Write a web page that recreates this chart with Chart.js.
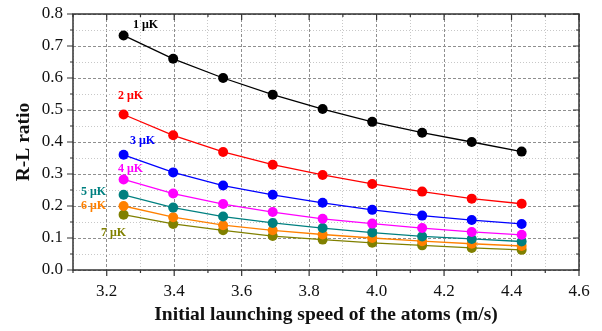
<!DOCTYPE html>
<html>
<head>
<meta charset="utf-8">
<script src="https://cdn.jsdelivr.net/npm/chart.js@4/dist/chart.umd.min.js"></script>
<style>
  html, body { margin: 0; padding: 0; background: #fff; }
  #wrap { width: 602px; height: 331px; }
</style>
</head>
<body>
<div id="wrap"><canvas id="chart"></canvas></div>
<script>
// Data
const speeds = [3.25, 3.397, 3.545, 3.692, 3.84, 3.987, 4.135, 4.282, 4.43];
const temps = ['1 μK', '2 μK', '3 μK', '4 μK', '5 μK', '6 μK', '7 μK'];
const ratio1uK = [0.733, 0.660, 0.600, 0.548, 0.503, 0.463, 0.429, 0.400, 0.370];
const ratio2uK = [0.486, 0.421, 0.369, 0.329, 0.297, 0.269, 0.245, 0.223, 0.207];
const ratio3uK = [0.360, 0.305, 0.264, 0.235, 0.210, 0.188, 0.170, 0.156, 0.144];
const ratio4uK = [0.283, 0.239, 0.206, 0.181, 0.160, 0.145, 0.131, 0.119, 0.110];
const ratio5uK = [0.235, 0.195, 0.167, 0.147, 0.131, 0.117, 0.105, 0.097, 0.089];
const ratio6uK = [0.200, 0.165, 0.140, 0.124, 0.111, 0.100, 0.090, 0.082, 0.075];
const ratio7uK = [0.173, 0.144, 0.124, 0.106, 0.095, 0.085, 0.077, 0.069, 0.063];

const allSeries = [ratio1uK, ratio2uK, ratio3uK, ratio4uK, ratio5uK, ratio6uK, ratio7uK];
const colors = ['#000000', '#ff0000', '#0000ff', '#ff00ff', '#008080', '#ff8000', '#808000'];
// label offset (px) from the first point of each curve
const labelOffsets = [[22, -11], [7, -19], [19, -14], [7, -11], [-30, -3], [-30, 0], [-10, 18]];

const serif = "'Liberation Serif', 'Times New Roman', serif";

const datasets = allSeries.map((vals, i) => ({
    label: temps[i],
    data: vals.map((v, j) => ({ x: speeds[j], y: v })),
    borderColor: colors[i],
    backgroundColor: colors[i],
    borderWidth: 1.3,
    pointRadius: 5,
    pointHoverRadius: 5,
    pointBorderWidth: 0,
    tension: 0
}));

const xMajor = v => Math.round(v * 10) % 2 === 0;
const yMajor = v => Math.round(v * 20) % 2 === 0;

// frame, inner/outer tick marks and curve labels
const decorations = {
    id: 'decorations',
    afterDatasetsDraw(chart) {
        const { ctx, chartArea: a, scales: { x, y } } = chart;
        ctx.save();
        ctx.strokeStyle = '#333';
        ctx.lineWidth = 1.5;
        ctx.strokeRect(a.left, a.top, a.right - a.left, a.bottom - a.top);
        ctx.lineWidth = 1.2;
        ctx.beginPath();
        x.ticks.forEach(t => {
            const px = x.getPixelForValue(t.value);
            const len = xMajor(t.value) ? 6 : 3;
            ctx.moveTo(px, a.bottom); ctx.lineTo(px, a.bottom + len);
            ctx.moveTo(px, a.top); ctx.lineTo(px, a.top + len);
        });
        y.ticks.forEach(t => {
            const py = y.getPixelForValue(t.value);
            const len = yMajor(t.value) ? 6 : 3;
            ctx.moveTo(a.left - len, py); ctx.lineTo(a.left, py);
            ctx.moveTo(a.right - len, py); ctx.lineTo(a.right, py);
        });
        ctx.stroke();

        ctx.font = 'bold 12px ' + serif;
        ctx.textAlign = 'center';
        ctx.textBaseline = 'middle';
        allSeries.forEach((vals, i) => {
            const px = x.getPixelForValue(speeds[0]) + labelOffsets[i][0];
            const py = y.getPixelForValue(vals[0]) + labelOffsets[i][1];
            ctx.fillStyle = colors[i];
            ctx.fillText(temps[i], px, py);
        });
        ctx.restore();
    }
};

new Chart(document.getElementById('chart'), {
    type: 'line',
    data: { datasets },
    plugins: [decorations],
    options: {
        responsive: true,
        maintainAspectRatio: false,
        animation: false,
        events: [],
        layout: { padding: { top: 14, right: 23, left: 0, bottom: 0 } },
        plugins: { legend: { display: false }, tooltip: { enabled: false } },
        scales: {
            x: {
                type: 'linear',
                min: 3.1,
                max: 4.6,
                afterFit: s => { s.height = 61; s.paddingLeft = 0; s.paddingRight = 0; },
                ticks: {
                    stepSize: 0.1,
                    autoSkip: false,
                    maxRotation: 0,
                    padding: 11,
                    color: '#111',
                    font: { family: serif, size: 17 },
                    callback: v => xMajor(v) ? v.toFixed(1) : ''
                },
                grid: {
                    drawTicks: false,
                    color: c => xMajor(c.tick.value) ? '#8f8f8f' : '#c8c8c8',
                    lineWidth: 1
                },
                border: {
                    display: false,
                    dash: c => xMajor(c.tick.value) ? [3, 2] : [1, 2]
                },
                title: {
                    display: true,
                    text: 'Initial launching speed of the atoms (m/s)',
                    color: '#111',
                    font: { family: serif, size: 19.5, weight: 'bold' },
                    padding: { top: 0, bottom: 4 }
                }
            },
            y: {
                min: 0,
                max: 0.8,
                afterFit: s => { s.width = 73; s.paddingTop = 0; s.paddingBottom = 0; },
                ticks: {
                    stepSize: 0.05,
                    autoSkip: false,
                    padding: 10,
                    color: '#111',
                    font: { family: serif, size: 17 },
                    callback: v => yMajor(v) ? v.toFixed(1) : ''
                },
                grid: {
                    drawTicks: false,
                    color: c => yMajor(c.tick.value) ? '#8f8f8f' : '#c8c8c8',
                    lineWidth: 1
                },
                border: {
                    display: false,
                    dash: c => yMajor(c.tick.value) ? [3, 2] : [1, 2]
                },
                title: {
                    display: true,
                    text: 'R-L ratio',
                    color: '#111',
                    font: { family: serif, size: 19.5, weight: 'bold' },
                    padding: { top: 12, bottom: 0 }
                }
            }
        }
    }
});
</script>
</body>
</html>
